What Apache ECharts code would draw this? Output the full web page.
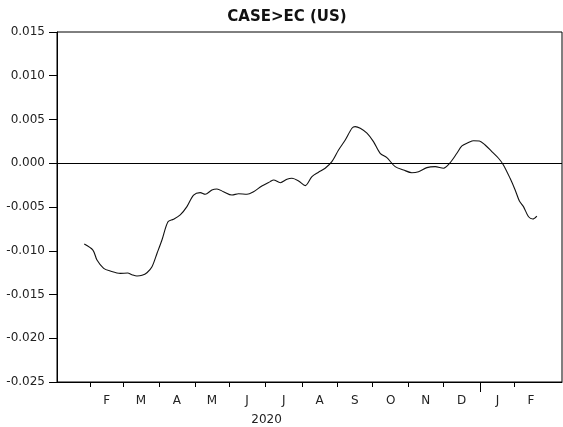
<!DOCTYPE html>
<html lang="en">
<head>
    <meta charset="UTF-8">
    <title>CASE>EC (US)</title>
    <script src="https://cdn.jsdelivr.net/npm/echarts@6/dist/echarts.min.js"></script>
</head>
<body style="margin:0">
<div id="container" style="width:563px;height:427px;"></div>
<script>
    // x = business-day index, 0 = first trading day of Feb 2020
    var obsIndex = [-3.7, 1.6, 4.1, 8.2, 12.3, 18.4, 22.9, 25.5, 28.6, 31.7, 34.7, 37.8, 40.9, 43.9,
        47.6, 51.0, 55.1, 59.2, 63.3, 67.4, 70.4, 74.5, 77.6, 81.6, 86.8, 90.8, 96.0, 100.0,
        105.1, 110.2, 112.3, 116.4, 120.5, 123.5, 127.6, 131.7, 135.8, 139.8, 143.9, 148.0,
        152.1, 156.2, 160.3, 162.3, 165.4, 169.5, 173.5, 177.6, 181.7, 186.8, 191.9, 197.0,
        201.1, 206.2, 211.3, 216.4, 220.5, 224.6, 227.7, 231.7, 234.8, 238.4, 241.9, 246.0,
        250.1, 253.1, 257.2, 260.3, 262.9, 265.4, 268.5, 271.1, 273.6];
    var caseEc = [-0.00923, -0.00992, -0.01106, -0.01201, -0.01232, -0.01258, -0.01255, -0.01274,
        -0.01289, -0.01281, -0.01251, -0.01183, -0.01029, -0.00877, -0.00668, -0.0064, -0.00591,
        -0.00496, -0.00363, -0.00336, -0.00355, -0.00305, -0.00294, -0.00325, -0.00363, -0.00348,
        -0.00355, -0.00325, -0.0026, -0.0021, -0.00191, -0.00222, -0.00183, -0.00172, -0.00202,
        -0.00256, -0.00153, -0.00103, -0.00057, 0.00018, 0.00152, 0.00266, 0.004, 0.00419, 0.004,
        0.00343, 0.00247, 0.00114, 0.00064, -0.00039, -0.00077, -0.00108, -0.00096, -0.0005,
        -0.00039, -0.00057, 0.00007, 0.00114, 0.00198, 0.00236, 0.00258, 0.00255, 0.00209,
        0.00133, 0.00057, -0.00019, -0.00172, -0.00305, -0.00431, -0.00496, -0.00611, -0.00637,
        -0.00603];

    // month boundaries (business-day index) and trading days per month, Feb 2020 .. Feb 2021
    var monthStart = [0, 20, 42, 64, 85, 107, 130, 151, 173, 195, 216, 239, 260];
    var monthDays = [20, 22, 22, 21, 22, 23, 21, 22, 22, 21, 23, 21, 20];
    var monthLetter = ['F', 'M', 'A', 'M', 'J', 'J', 'A', 'S', 'O', 'N', 'D', 'J', 'F'];
    var yearStart = [239];
    var yearLabel = ['2020'];
    var yearLabelAt = [108];

    var xMin = -20.4, xMax = 289;
    var monthMid = monthStart.map(function (s, i) { return s + monthDays[i] / 2; });

    var seriesData = obsIndex.map(function (x, i) { return [x, caseEc[i]]; });

    var font = 'DejaVu Sans, sans-serif';
    var myChart = echarts.init(document.getElementById('container'));
    myChart.setOption({
        animation: false,
        backgroundColor: '#fff',
        title: {
            text: 'CASE>EC (US)',
            left: 282,
            top: 5,
            textAlign: 'center',
            textStyle: {fontFamily: font, fontSize: 15, fontWeight: 'bold', color: '#111'}
        },
        grid: {
            left: 57, top: 32, right: 1, bottom: 45,
            show: true, borderColor: '#000', borderWidth: 1, backgroundColor: 'transparent'
        },
        xAxis: [{
            type: 'value',
            min: xMin,
            max: xMax,
            axisLine: {show: true, onZero: false, lineStyle: {color: '#000'}},
            splitLine: {show: false},
            axisTick: {show: true, inside: false, length: 5, customValues: monthStart,
                lineStyle: {color: '#000'}},
            axisLabel: {
                show: true, margin: 13, customValues: monthMid,
                fontFamily: font, fontSize: 12, color: '#222',
                formatter: function (v) {
                    var best = 0;
                    for (var i = 0; i < monthMid.length; i++) {
                        if (Math.abs(monthMid[i] - v) < Math.abs(monthMid[best] - v)) best = i;
                    }
                    return monthLetter[best];
                }
            }
        }, {
            type: 'value',
            min: xMin,
            max: xMax,
            position: 'bottom',
            axisLine: {show: false, onZero: false},
            splitLine: {show: false},
            axisTick: {show: true, inside: false, length: 10, customValues: yearStart,
                lineStyle: {color: '#000'}},
            axisLabel: {
                show: true, margin: 32, customValues: yearLabelAt,
                fontFamily: font, fontSize: 12, color: '#222',
                formatter: function () { return yearLabel[0]; }
            }
        }],
        yAxis: {
            type: 'value',
            min: -0.025,
            max: 0.015,
            interval: 0.005,
            axisLine: {show: true, onZero: false, lineStyle: {color: '#000'}},
            splitLine: {show: false},
            axisTick: {show: true, inside: false, length: 8, lineStyle: {color: '#000'}},
            axisLabel: {
                margin: 12, fontFamily: font, fontSize: 12, color: '#222',
                formatter: function (v) { return v.toFixed(3); }
            }
        },
        series: [{
            type: 'line',
            data: seriesData,
            showSymbol: false,
            smooth: 0.3,
            lineStyle: {color: '#111', width: 1.1},
            markLine: {
                silent: true,
                symbol: ['none', 'none'],
                label: {show: false},
                lineStyle: {color: '#000', width: 1, type: 'solid'},
                data: [{yAxis: 0}]
            }
        }]
    });
</script>
</body>
</html>
